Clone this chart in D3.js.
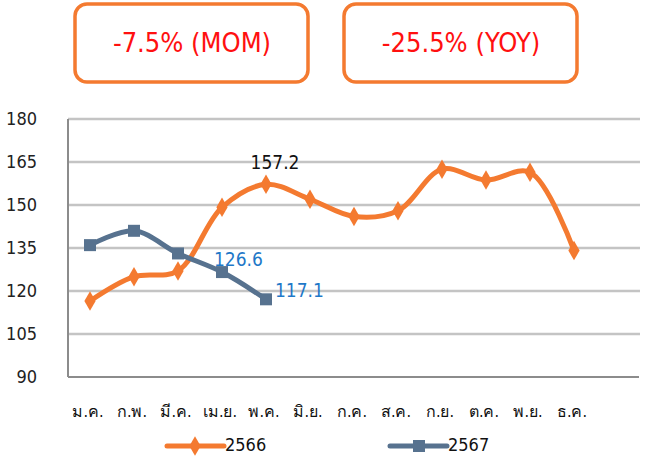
<!DOCTYPE html>
<html>
<head>
<meta charset="utf-8">
<script src="https://cdn.jsdelivr.net/npm/d3@7"></script>
<style>
  body { margin: 0; background: #fff; }
  text { font-family: "DejaVu Sans Condensed", "DejaVu Sans", "Noto Sans", sans-serif; }
</style>
</head>
<body>
<svg width="648" height="456"></svg>
<script>
// data
var months = ["ม.ค.", "ก.พ.", "มี.ค.", "เม.ย.", "พ.ค.", "มิ.ย.", "ก.ค.", "ส.ค.", "ก.ย.", "ต.ค.", "พ.ย.", "ธ.ค."];
var s2566 = [116.5, 125.0, 127.0, 149.2, 157.2, 152.0, 146.0, 148.0, 162.5, 158.7, 161.4, 134.1];
var s2567 = [136.0, 141.0, 133.1, 126.6, 117.1];
var yTicks = [90, 105, 120, 135, 150, 165, 180];
var badges = ["-7.5% (MOM)", "-25.5% (YOY)"];
var seriesNames = ["2566", "2567"];

var orange = "#F47A30", blue = "#57728F";

var svg = d3.select("svg");

var x = d3.scaleLinear().domain([0, 13]).range([68, 640]);
var y = d3.scaleLinear().domain([90, 180]).range([377, 119]);

// gridlines
svg.append("g").selectAll("line")
  .data(yTicks.slice(1))
  .join("line")
  .attr("x1", 68).attr("x2", 640)
  .attr("y1", function(d) { return y(d); })
  .attr("y2", function(d) { return y(d); })
  .attr("stroke", "#c4c4c4").attr("stroke-width", 2.5);

// axes lines
svg.append("line").attr("x1", 68).attr("x2", 639).attr("y1", y(90)).attr("y2", y(90))
  .attr("stroke", "#8c8c8c").attr("stroke-width", 2);
svg.append("line").attr("x1", 68).attr("x2", 68).attr("y1", y(180)).attr("y2", y(90))
  .attr("stroke", "#8c8c8c").attr("stroke-width", 2);

// y labels
svg.append("g").selectAll("text")
  .data(yTicks)
  .join("text")
  .attr("x", 37).attr("y", function(d) { return y(d); })
  .attr("dy", "0.35em")
  .attr("text-anchor", "end")
  .attr("font-size", 18)
  .attr("fill", "#222")
  .text(function(d) { return d; });

// x labels
svg.append("g").selectAll("text")
  .data(months)
  .join("text")
  .attr("x", function(d, i) { return x(i + 0.5) - 2; })
  .attr("y", 417)
  .attr("text-anchor", "middle")
  .attr("font-size", 16)
  .attr("fill", "#111")
  .text(function(d) { return d; });

var line = d3.line()
  .x(function(d, i) { return x(i + 0.5); })
  .y(function(d) { return y(d); })
  .curve(d3.curveCatmullRom.alpha(0.5));

svg.append("path").attr("d", line(s2566))
  .attr("fill", "none").attr("stroke", orange).attr("stroke-width", 5);
svg.append("path").attr("d", line(s2567))
  .attr("fill", "none").attr("stroke", blue).attr("stroke-width", 5);

// markers
var diamond = d3.symbol().type(d3.symbolDiamond).size(110);
svg.append("g").selectAll("path")
  .data(s2566)
  .join("path")
  .attr("d", diamond)
  .attr("transform", function(d, i) { return "translate(" + x(i + 0.5) + "," + y(d) + ")"; })
  .attr("fill", orange);

svg.append("g").selectAll("rect")
  .data(s2567)
  .join("rect")
  .attr("x", function(d, i) { return x(i + 0.5) - 6; })
  .attr("y", function(d) { return y(d) - 6; })
  .attr("width", 12).attr("height", 12)
  .attr("fill", blue);

// data labels
svg.append("text").attr("x", x(4.5) + 9).attr("y", y(157.2) - 15)
  .attr("text-anchor", "middle").attr("font-size", 19).attr("fill", "#111")
  .text(s2566[4].toFixed(1));
svg.append("text").attr("x", x(3.5) - 8).attr("y", y(126.6) - 6)
  .attr("font-size", 19).attr("fill", "#1f78c8")
  .text(s2567[3].toFixed(1));
svg.append("text").attr("x", x(4.5) + 9).attr("y", y(117.1) - 2)
  .attr("font-size", 19).attr("fill", "#1f78c8")
  .text(s2567[4].toFixed(1));

// badges
var bx = [75, 344];
svg.append("g").selectAll("g")
  .data(badges)
  .join("g")
  .each(function(d, i) {
    var g = d3.select(this);
    g.append("rect").attr("x", bx[i]).attr("y", 4).attr("width", 233).attr("height", 78)
      .attr("rx", 12).attr("fill", "#fff").attr("stroke", orange).attr("stroke-width", 3.5);
    g.append("text").attr("x", bx[i] + 117).attr("y", 43).attr("dy", "0.35em")
      .attr("text-anchor", "middle").attr("font-size", 27).attr("fill", "#ff1010")
      .text(d);
  });

// legend
var lx = [167, 390];
var lg = svg.append("g").selectAll("g")
  .data(seriesNames)
  .join("g")
  .attr("transform", function(d, i) { return "translate(" + lx[i] + ",446)"; });
lg.append("line").attr("x1", 0).attr("x2", 57).attr("y1", 0).attr("y2", 0)
  .attr("stroke", function(d, i) { return i ? blue : orange; }).attr("stroke-width", 5)
  .attr("stroke-linecap", "round");
lg.each(function(d, i) {
  var g = d3.select(this);
  if (i) g.append("rect").attr("x", 23).attr("y", -6).attr("width", 12).attr("height", 12).attr("fill", blue);
  else g.append("path").attr("d", diamond).attr("transform", "translate(28,0)").attr("fill", orange);
});
lg.append("text").attr("x", 58).attr("y", 0).attr("dy", "0.3em")
  .attr("font-size", 18).attr("fill", "#111")
  .text(function(d) { return d; });
</script>
</body>
</html>
